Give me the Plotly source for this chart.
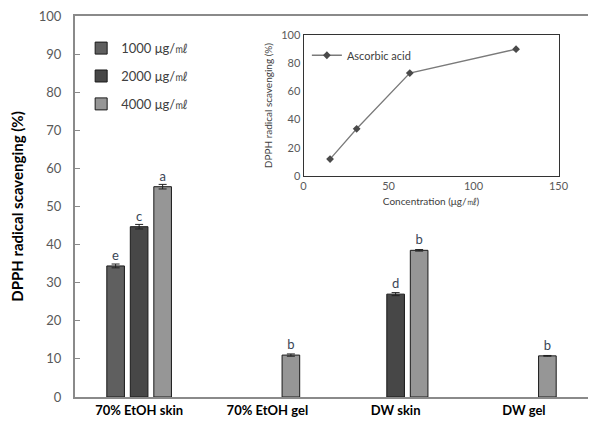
import plotly.graph_objects as go

categories = ["70% EtOH skin", "70% EtOH gel", "DW skin", "DW gel"]
series_names = ["1000 μg/㎖", "2000 μg/㎖", "4000 μg/㎖"]
s1000 = [34.4, None, None, None]
s2000 = [44.7, None, 27.0, None]
s4000 = [55.2, 11.0, 38.5, 10.8]
e1000 = [0.5, None, None, None]
e2000 = [0.6, None, 0.4, None]
e4000 = [0.6, 0.3, 0.2, 0.1]
l1000 = ["e", "", "", ""]
l2000 = ["c", "", "d", ""]
l4000 = ["a", "b", "b", "b"]
colors = ["#5f5f5f", "#474747", "#969696"]

asc_conc = [15.6, 31.25, 62.5, 125]
asc_val = [12, 33.5, 73, 90]

FONT = "Lato"
fig = go.Figure()
for i, (name, vals, errs, labs) in enumerate(zip(series_names, [s1000, s2000, s4000],
                                                 [e1000, e2000, e4000], [l1000, l2000, l4000])):
    fig.add_trace(go.Bar(
        x=categories, y=vals, name=name, legendgroup=str(i),
        marker=dict(color=colors[i], line=dict(color="#1a1a1a", width=1)),
        error_y=dict(type="data", array=errs, color="#222", thickness=1, width=4),
        text=labs, textposition="outside", cliponaxis=False,
        textfont=dict(family=FONT, size=13, color="#3a4656"),
        legend="legend",
    ))

fig.add_trace(go.Scatter(
    x=asc_conc, y=asc_val, name="Ascorbic acid", mode="lines+markers",
    line=dict(color="#7a7a7a", width=1.3),
    marker=dict(symbol="diamond", size=6, color="#4a4a4a"),
    xaxis="x2", yaxis="y2", legend="legend2",
))

fig.update_layout(
    width=590, height=413,
    margin=dict(l=67, r=0, t=8, b=24),
    plot_bgcolor="white", paper_bgcolor="white",
    barmode="group", bargap=0.45, bargroupgap=0.25,
    font=dict(family=FONT, color="#595959"),
    xaxis=dict(
        showline=True, linecolor="#8a8a8a", linewidth=2, mirror=True,
        ticks="", tickfont=dict(family=FONT, size=13, color="black", weight="bold"),
        showgrid=False,
    ),
    yaxis=dict(
        range=[0, 100], dtick=10, showline=True, linecolor="#8a8a8a", linewidth=2,
        ticks="inside", ticklen=5, tickcolor="#8a8a8a", ticklabelstandoff=9,
        ticklabeloverflow="allow",
        tickfont=dict(family=FONT, size=13, color="#595959"), showgrid=False,
        zeroline=False,
        title=dict(text="DPPH radical scavenging (%)", standoff=18,
                   font=dict(family=FONT, size=15, color="black", weight="bold")),
    ),
    xaxis2=dict(
        domain=[0.4455, 0.9426], anchor="y2", range=[0, 150], dtick=50,
        showline=True, linecolor="#333", linewidth=1, mirror=True, showgrid=False,
        zeroline=False, ticks="",
        tickfont=dict(family=FONT, size=11, color="#595959"),
        title=dict(text="Concentration (μg/㎖)", standoff=6,
                   font=dict(family=FONT, size=10, color="#404040")),
    ),
    yaxis2=dict(
        domain=[0.58, 0.95], anchor="x2", range=[0, 100], dtick=20,
        showline=True, linecolor="#333", linewidth=1, mirror=True, showgrid=False,
        zeroline=False, ticks="",
        tickfont=dict(family=FONT, size=11, color="#595959"),
        title=dict(text="DPPH radical scavenging (%)", standoff=6,
                   font=dict(family=FONT, size=10, color="#404040")),
    ),
    legend=dict(x=0.012, y=0.955, xanchor="left", yanchor="top",
                bgcolor="rgba(0,0,0,0)", tracegroupgap=8,
                font=dict(family=FONT, size=13, color="#404040"),
                itemwidth=30),
    legend2=dict(x=0.452, y=0.935, xanchor="left", yanchor="top",
                 bgcolor="rgba(0,0,0,0)",
                 font=dict(family=FONT, size=11, color="#404040")),
    showlegend=True,
)

fig.write_html("out.html")
